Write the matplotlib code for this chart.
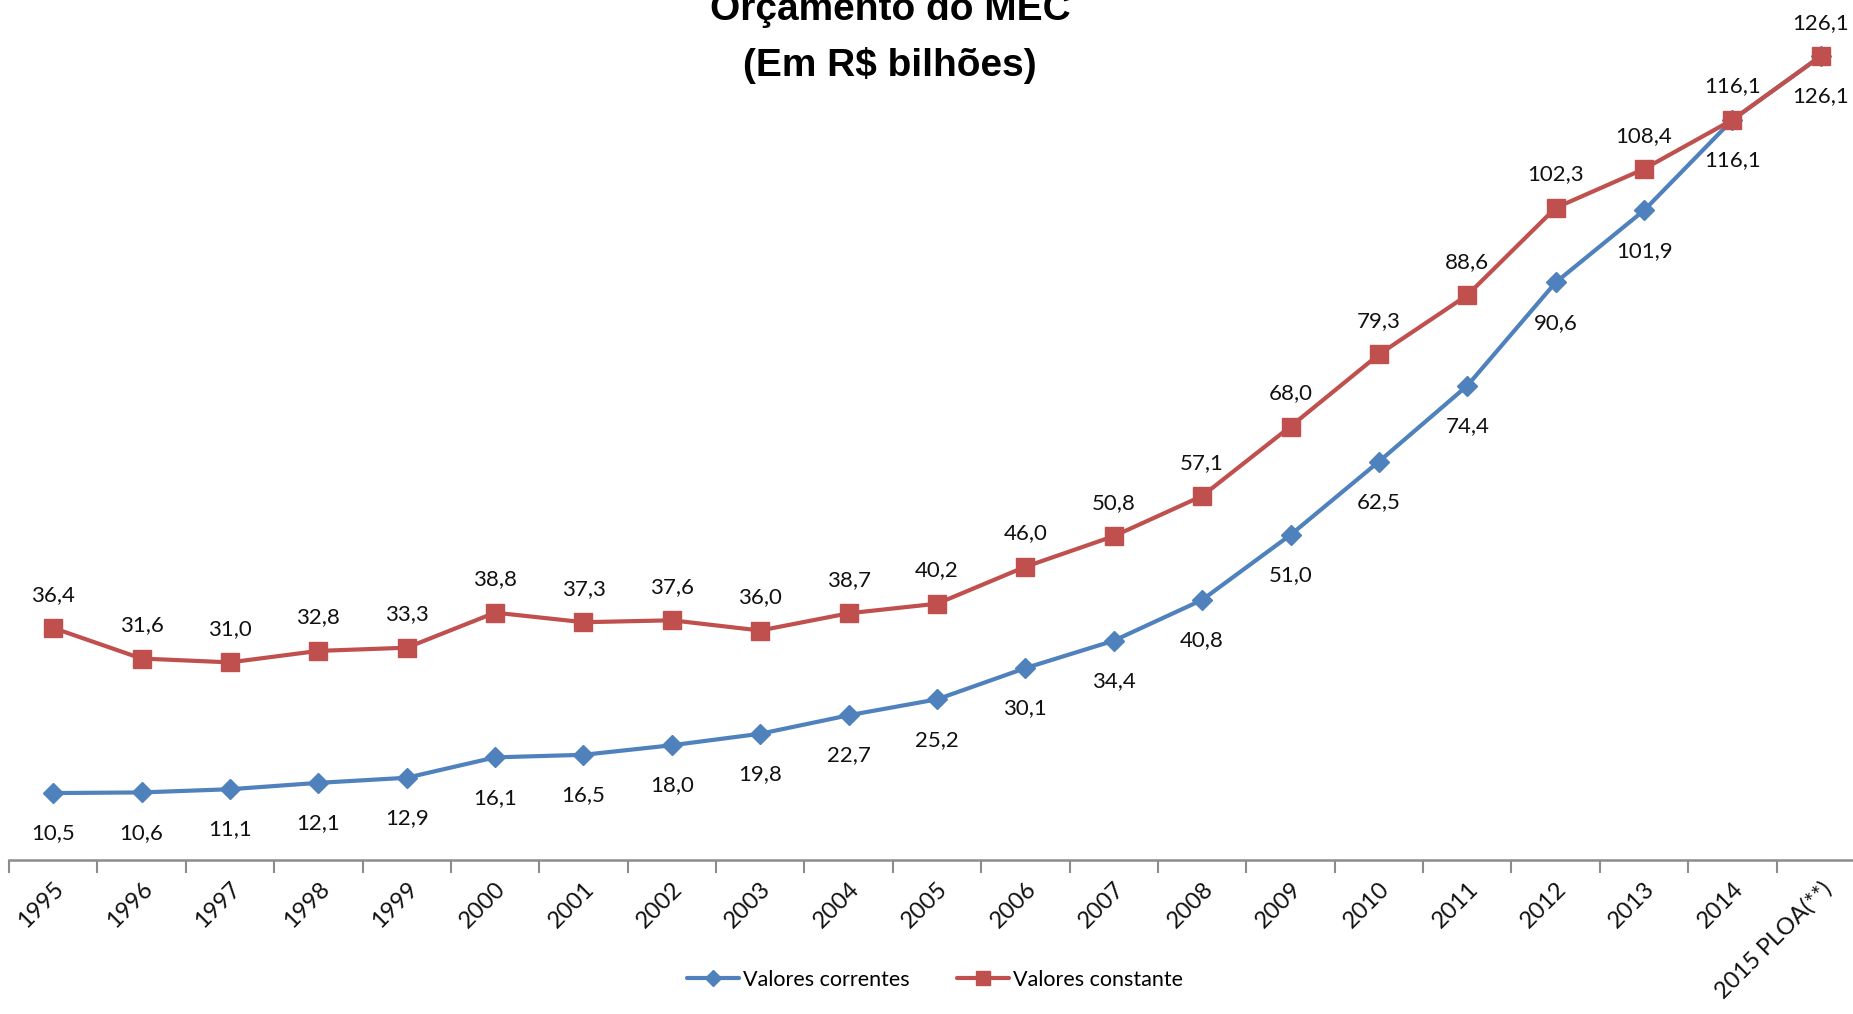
import matplotlib
matplotlib.use("Agg")
import matplotlib.pyplot as plt

# Orçamento do MEC, em R$ bilhões
anos = ["1995", "1996", "1997", "1998", "1999", "2000", "2001", "2002", "2003",
        "2004", "2005", "2006", "2007", "2008", "2009", "2010", "2011", "2012",
        "2013", "2014", "2015 PLOA(**)"]
valores_correntes = [10.5, 10.6, 11.1, 12.1, 12.9, 16.1, 16.5, 18.0, 19.8, 22.7, 25.2,
                     30.1, 34.4, 40.8, 51.0, 62.5, 74.4, 90.6, 101.9, 116.1, 126.1]
valores_constantes = [36.4, 31.6, 31.0, 32.8, 33.3, 38.8, 37.3, 37.6, 36.0, 38.7, 40.2,
                      46.0, 50.8, 57.1, 68.0, 79.3, 88.6, 102.3, 108.4, 116.1, 126.1]

AZUL = "#4F81BD"
VERMELHO = "#C0504D"
FONTE = "Lato"

W, H = 1853, 1014
fig = plt.figure(figsize=(W / 100, H / 100), dpi=100)

# axes placed so that the x axis sits near the bottom and the plot runs off the top/right
ax = fig.add_axes([9 / W, 154 / H, 1856 / W, 860 / H])
x = list(range(len(anos)))

ax.plot(x, valores_correntes, color=AZUL, lw=3, marker="D", ms=10,
        label="Valores correntes", zorder=3, solid_capstyle="round")
ax.plot(x, valores_constantes, color=VERMELHO, lw=3, marker="s", ms=13,
        label="Valores constante", zorder=4, solid_capstyle="round")

def fmt(v):
    return f"{v:.1f}".replace(".", ",")

for xi, v in zip(x, valores_correntes):
    ax.annotate(fmt(v), (xi, v), xytext=(0, -29), textcoords="offset points",
                ha="center", va="center", fontsize=16, family=FONTE, color="#111111")
for xi, v in zip(x, valores_constantes):
    ax.annotate(fmt(v), (xi, v), xytext=(0, 24), textcoords="offset points",
                ha="center", va="center", fontsize=16, family=FONTE, color="#111111")

ax.set_xlim(-0.5, len(anos) - 0.5)
ax.set_ylim(0, 860 / 6.375)

for s in ["top", "right", "left"]:
    ax.spines[s].set_visible(False)
ax.spines["bottom"].set_color("#8C8C8C")
ax.spines["bottom"].set_linewidth(1.8)
ax.set_yticks([])

ax.set_xticks(x)
ax.set_xticklabels(anos, rotation=45, ha="right", va="top", rotation_mode="anchor",
                   fontsize=17, family=FONTE, color="#111111")
ax.tick_params(axis="x", which="major", length=0, pad=13)
ax.set_xticks([i - 0.5 for i in range(len(anos) + 1)], minor=True)
ax.tick_params(axis="x", which="minor", length=9, width=1.5, color="#8C8C8C")

fig.text(890 / W, 1 - 10 / H, "Orçamento do MEC", ha="center", va="center",
         fontsize=28, fontweight="bold", family="Liberation Sans")
fig.text(890 / W, 1 - 65 / H, "(Em R$ bilhões)", ha="center", va="center",
         fontsize=28, fontweight="bold", family="Liberation Sans")

fig.legend(loc="center", bbox_to_anchor=(935 / W, 1 - 980 / H), ncol=2, frameon=False,
           prop={"family": FONTE, "size": 15.5}, handlelength=2.4, handletextpad=0.2,
           columnspacing=2.2, markerscale=0.8)

fig.savefig("out.png", dpi=100)
